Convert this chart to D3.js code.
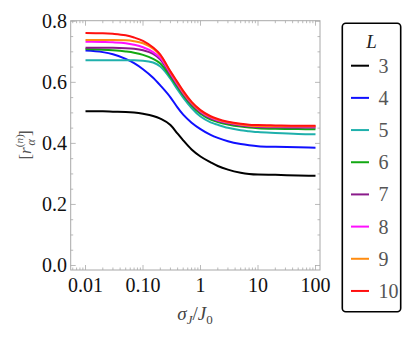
<!DOCTYPE html>
<html><head><meta charset="utf-8">
<script src="https://cdn.jsdelivr.net/npm/d3@7"></script>
<style>html,body{margin:0;padding:0;background:#fff;}svg{display:block;}
text{font-family:"Liberation Serif","Times New Roman","DejaVu Serif","Noto Serif",Times,serif;}</style>
</head><body>
<svg id="c" width="415" height="339"></svg>
<script>
const sigma = [0.01,0.02,0.03,0.05,0.07,0.1,0.15,0.2,0.3,0.4,0.5,0.7,1,1.5,2,3,5,7,10,20,50,100];
const L3  = [0.505,0.505,0.504,0.503,0.501,0.497,0.490,0.481,0.460,0.432,0.410,0.380,0.357,0.338,0.326,0.314,0.304,0.300,0.298,0.297,0.295,0.294];
const L4  = [0.704,0.699,0.692,0.677,0.663,0.643,0.615,0.590,0.551,0.517,0.494,0.468,0.447,0.428,0.418,0.407,0.398,0.394,0.391,0.389,0.387,0.386];
const L5  = [0.672,0.672,0.672,0.672,0.672,0.671,0.665,0.652,0.612,0.576,0.550,0.516,0.488,0.469,0.461,0.451,0.443,0.440,0.437,0.434,0.431,0.430];
const L6  = [0.709,0.707,0.705,0.701,0.697,0.690,0.677,0.662,0.619,0.585,0.558,0.524,0.497,0.478,0.470,0.462,0.455,0.452,0.450,0.448,0.447,0.446];
const L7  = [0.713,0.713,0.713,0.712,0.710,0.705,0.693,0.675,0.626,0.590,0.563,0.529,0.502,0.482,0.474,0.466,0.459,0.456,0.454,0.453,0.452,0.452];
const L8  = [0.733,0.732,0.731,0.728,0.723,0.715,0.699,0.680,0.630,0.593,0.566,0.532,0.505,0.485,0.476,0.468,0.461,0.458,0.456,0.455,0.455,0.455];
const L9  = [0.739,0.739,0.739,0.738,0.735,0.728,0.710,0.688,0.634,0.597,0.569,0.534,0.507,0.487,0.478,0.469,0.462,0.459,0.457,0.456,0.456,0.456];
const L10 = [0.762,0.761,0.759,0.754,0.747,0.736,0.714,0.691,0.636,0.600,0.572,0.536,0.509,0.489,0.480,0.471,0.464,0.461,0.460,0.459,0.458,0.458];
const seriesNames = ["3","4","5","6","7","8","9","10"];
const seriesValues = [L3,L4,L5,L6,L7,L8,L9,L10];
const colors = ["#000000","#1010ff","#1fb0ac","#12a812","#8a1a8a","#ff10ff","#ff8c10","#ff1010"];
const xTickVals = [0.01,0.1,1,10,100];
const xTickLabels = ["0.01","0.10","1","10","100"];
const yTickVals = [0,0.2,0.4,0.6,0.8];
const yTickLabels = ["0.0","0.2","0.4","0.6","0.8"];

const svg = d3.select("#c");
const x = d3.scaleLog().domain([0.01,100]).range([85.5,315.5]);
const y = d3.scaleLinear().domain([0,0.8]).range([265.5,21.3]);
const fr = {l:70.7, r:320, t:20.7, b:270};
const frameCol = "#a8a8a8";

svg.append("rect").attr("x",fr.l).attr("y",fr.t).attr("width",fr.r-fr.l).attr("height",fr.b-fr.t)
  .attr("fill","none").attr("stroke",frameCol).attr("stroke-width",1);

const xMinor = [];
for (let e=-3;e<=2;e++) for (let m=2;m<=9;m++){ const v=m*Math.pow(10,e); const px=x(v); if(px>fr.l && px<fr.r) xMinor.push(v);}
const tg = svg.append("g").attr("stroke",frameCol).attr("stroke-width",0.8);
xTickVals.forEach(v=>{ const px=x(v);
  tg.append("line").attr("x1",px).attr("x2",px).attr("y1",fr.b).attr("y2",fr.b-5);
  tg.append("line").attr("x1",px).attr("x2",px).attr("y1",fr.t).attr("y2",fr.t+5);});
xMinor.forEach(v=>{ const px=x(v);
  tg.append("line").attr("x1",px).attr("x2",px).attr("y1",fr.b).attr("y2",fr.b-2.5);
  tg.append("line").attr("x1",px).attr("x2",px).attr("y1",fr.t).attr("y2",fr.t+2.5);});
d3.range(0,0.8001,0.05).forEach(v=>{ const py=y(v); const major = Math.abs(v*5-Math.round(v*5))<1e-6; const len = major?5:2.5;
  tg.append("line").attr("x1",fr.l).attr("x2",fr.l+len).attr("y1",py).attr("y2",py);
  tg.append("line").attr("x1",fr.r).attr("x2",fr.r-len).attr("y1",py).attr("y2",py);});

xTickVals.forEach((v,i)=>svg.append("text").attr("x",x(v)).attr("y",291.5).attr("text-anchor","middle")
  .attr("font-size",20).attr("fill","#111").text(xTickLabels[i]));
yTickVals.forEach((v,i)=>svg.append("text").attr("x",67).attr("y",y(v)+6.5).attr("text-anchor","end")
  .attr("font-size",20).attr("fill","#111").text(yTickLabels[i]));

const line = d3.line().x((d,i)=>x(sigma[i])).y(d=>y(d)).curve(d3.curveMonotoneX);
seriesValues.forEach((vals,k)=>{
  svg.append("path").attr("d",line(vals)).attr("fill","none").attr("stroke",colors[k]).attr("stroke-width",2);
});

const xl = svg.append("text").attr("x",195).attr("y",320).attr("text-anchor","middle")
  .attr("font-size",19).attr("fill","#444");
xl.append("tspan").attr("font-style","italic").text("σ");
xl.append("tspan").attr("font-style","italic").attr("font-size",13).attr("dy",4).text("J");
xl.append("tspan").attr("dy",-4).text("/");
xl.append("tspan").attr("font-style","italic").text("J");
xl.append("tspan").attr("font-size",13).attr("dy",4).text("0");

const yl = svg.append("g").attr("transform","translate(31,145) rotate(-90)");
const ylt = yl.append("text").attr("text-anchor","middle").attr("font-size",17).attr("fill","#555");
ylt.append("tspan").text("[");
ylt.append("tspan").attr("font-style","italic").text("r");
ylt.append("tspan").attr("font-size",11).attr("dy",-8).text("(");
ylt.append("tspan").attr("font-size",11).attr("font-style","italic").text("n");
ylt.append("tspan").attr("font-size",11).text(")");
ylt.append("tspan").attr("font-size",12).attr("font-style","italic").attr("dx",-11).attr("dy",12).text("α");
ylt.append("tspan").attr("dx",3).attr("dy",-4).text("]");

const lg = svg.append("g");
lg.append("rect").attr("x",342.3).attr("y",23.3).attr("width",58.4).attr("height",288.4).attr("rx",3.5)
  .attr("fill","#fff").attr("stroke","#000").attr("stroke-width",1.6);
lg.append("text").attr("x",371.5).attr("y",48).attr("text-anchor","middle")
  .attr("font-style","italic").attr("font-size",19).attr("fill","#222").text("L");
seriesNames.forEach((n,k)=>{ const cy = 65.7 + k*32.18;
  lg.append("line").attr("x1",351).attr("x2",369).attr("y1",cy).attr("y2",cy).attr("stroke",colors[k]).attr("stroke-width",2);
  lg.append("text").attr("x",378.5).attr("y",cy+7).attr("font-size",20).attr("fill","#555").text(n);
});
</script>
</body></html>
